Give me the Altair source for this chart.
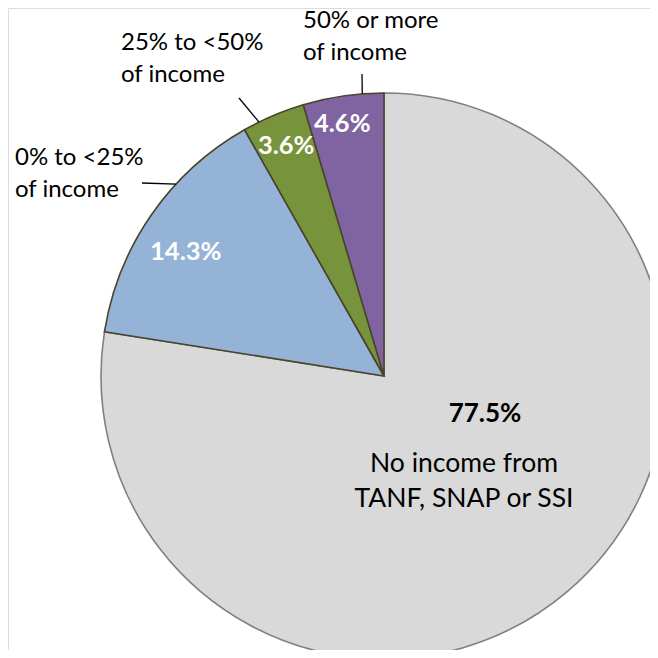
import math
import altair as alt
import pandas as pd

# ---- data ----
categories = ["No income from TANF, SNAP or SSI", "0% to <25% of income",
              "25% to <50% of income", "50% or more of income"]
values = [77.5, 14.3, 3.6, 4.6]
pct_labels = ["77.5%", "14.3%", "3.6%", "4.6%"]
ext_labels = ["", "0% to <25%\nof income", "25% to <50%\nof income", "50% or more\nof income"]
main_desc = "No income from\nTANF, SNAP or SSI"

# ---- style / layout ----
fills = ["#D9D9D9", "#95B3D7", "#77933C", "#8064A2"]
strokes = ["#808080", "#4A452A", "#4A452A", "#4A452A"]
FONT = "Lato"
CX, CY, R = 376, 368, 283
W = H = 642
# inside-label radius and nudges for the small slices
in_radius = [0, 234, 250, 255]
in_nudge = [(0, 0), (-6, 9), (0, 0), (-5, 0)]
# external label anchor (left, first baseline) and leader (outer point, angle on rim)
ext_anchor = [None, (7, 157), (113, 42), (295, 20)]
leader = [None, ((134, 175), 312.7), ((231, 90), 333.8), ((354, 66), 355.6)]

df = pd.DataFrame({
    "category": categories,
    "value": values,
    "pct": pct_labels,
    "order": list(range(len(categories))),
    "fill": fills,
    "stroke": strokes,
    "rad": in_radius,
})

total = float(sum(values))
theta_scale = alt.Scale(domain=[0, total])
order = alt.Order("order:Q", sort="ascending")

pie = alt.Chart(df).mark_arc(outerRadius=R, strokeWidth=1.6).encode(
    theta=alt.Theta("value:Q", stack=True, scale=theta_scale),
    order=order,
    color=alt.Color("fill:N", scale=None),
    stroke=alt.Stroke("stroke:N", scale=None),
    x=alt.value(CX),
    y=alt.value(CY),
)

layers = [pie]

label_base = alt.Chart(df).transform_window(
    cum="sum(value)", sort=[alt.SortField("order", order="ascending")], frame=[None, 0]
).transform_calculate(mid="datum.cum - datum.value / 2")

for i in range(1, len(categories)):
    dx, dy = in_nudge[i]
    t = label_base.transform_filter(alt.datum.order == i).mark_text(
        font=FONT, fontSize=25.5, fontWeight="bold", color="white",
        align="center", baseline="middle", dx=dx, dy=dy,
    ).encode(
        theta=alt.Theta("mid:Q", stack=False, scale=theta_scale),
        radius=alt.Radius("rad:Q", scale=None),
        text="pct:N",
        x=alt.value(CX),
        y=alt.value(CY),
    )
    layers.append(t)

# main slice labels
main_df = pd.DataFrame({"t": [pct_labels[0]], "d": [main_desc]})
layers.append(alt.Chart(main_df).mark_text(
    font=FONT, fontSize=26, fontWeight="bold", color="black",
    align="center", baseline="alphabetic",
).encode(text="t:N", x=alt.value(477), y=alt.value(414)))
layers.append(alt.Chart(main_df).mark_text(
    font=FONT, fontSize=26.5, color="black", lineBreak="\n", lineHeight=34.5,
    align="center", baseline="alphabetic",
).encode(text="d:N", x=alt.value(456), y=alt.value(464)))

# external labels
ext_rows = []
lead_rows = []
for i in range(1, len(categories)):
    ax, ay = ext_anchor[i]
    ext_rows.append({"label": ext_labels[i], "x": ax, "y": ay})
    (ox, oy), ang = leader[i]
    a = math.radians(ang)
    ix = CX + R * math.sin(a)
    iy = CY - R * math.cos(a)
    lead_rows.append({"x": ox, "y": oy, "x2": ix, "y2": iy})

ext_df = pd.DataFrame(ext_rows)
lead_df = pd.DataFrame(lead_rows)

layers.append(alt.Chart(ext_df).mark_text(
    font=FONT, fontSize=24, color="black", lineBreak="\n", lineHeight=32,
    align="left", baseline="alphabetic",
).encode(
    text="label:N",
    x=alt.X("x:Q", scale=None),
    y=alt.Y("y:Q", scale=None),
))
layers.append(alt.Chart(lead_df).mark_rule(color="black", strokeWidth=1.3).encode(
    x=alt.X("x:Q", scale=None),
    y=alt.Y("y:Q", scale=None),
    x2="x2:Q",
    y2="y2:Q",
))

chart = alt.layer(*layers).properties(
    width=W, height=H, padding=0,
    autosize=alt.AutoSizeParams(type="none"),
).configure_view(stroke=None).configure(background="white")

chart.save("out.html", embed_options={"renderer": "svg", "actions": False})
